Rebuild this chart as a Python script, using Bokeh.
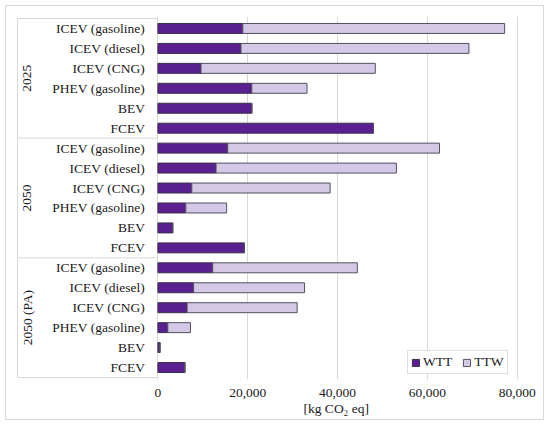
import math
from bokeh.plotting import figure
from bokeh.models import (FactorRange, ColumnDataSource, Legend, LegendItem, FixedTicker,
                          NumeralTickFormatter, Title)
from bokeh.core.properties import value
from bokeh.embed import file_html
from bokeh.resources import INLINE

years = ["2025", "2050", "2050 (PA)"]
vehicles = ["ICEV (gasoline)", "ICEV (diesel)", "ICEV (CNG)", "PHEV (gasoline)", "BEV", "FCEV"]
wtt_2025 = [18900, 18500, 9600, 20900, 20900, 48000]
ttw_2025 = [58300, 50750, 38800, 12300, 0, 0]
wtt_2050 = [15550, 12950, 7550, 6200, 3300, 19250]
ttw_2050 = [47150, 40150, 30800, 9100, 0, 0]
wtt_2050pa = [12200, 7950, 6500, 2200, 450, 6000]
ttw_2050pa = [32200, 24700, 24500, 5050, 0, 0]
x_ticks = [0, 20000, 40000, 60000, 80000]
x_title = "[kg CO₂ eq]"

wtt_all = [wtt_2025, wtt_2050, wtt_2050pa]
ttw_all = [ttw_2025, ttw_2050, ttw_2050pa]

factors, wtt, ttw, names = [], [], [], []
for y, w_list, t_list in zip(years, wtt_all, ttw_all):
    for v, w, t in zip(vehicles, w_list, t_list):
        factors.append((y, v))
        wtt.append(w)
        ttw.append(t)
        names.append(v)
# reverse so that the first factor is drawn at the top
factors, wtt, ttw, names = factors[::-1], wtt[::-1], ttw[::-1], names[::-1]
total = [a + b for a, b in zip(wtt, ttw)]

src = ColumnDataSource(dict(y=factors, wtt=wtt, ttw=ttw, total=total, name=names,
                            zero=[0] * len(wtt)))

FONT = "Liberation Serif"
FS = "13.5px"
TXT = "#1a1a1a"
GRID = "#d9d9d9"

# geometry (canvas px)
W, H = 539, 415
PX_PER_UNIT = 360 / 80000          # 0 .. 80,000 over 360 px
LEFT_PX = 140.7                    # label table width left of the value axis
X_START = -(LEFT_PX + 1) / PX_PER_UNIT
X_END = 80000 + 1.3 / PX_PER_UNIT
TABLE_X = -LEFT_PX / PX_PER_UNIT

p = figure(width=W, height=H, output_backend="svg", toolbar_location=None,
           y_range=FactorRange(*factors, range_padding=0.1, range_padding_units="absolute",
                               group_padding=0, factor_padding=0),
           x_range=(X_START, X_END),
           min_border_left=10, min_border_right=27, min_border_top=10, min_border_bottom=42)
p.styles = {"margin": "5px 0 0 5px", "border": "1px solid #d9d9d9"}
p.outline_line_color = None
p.yaxis.visible = False

r1 = p.hbar(y="y", left="zero", right="wtt", height=0.5, source=src,
            fill_color="#5a2090", line_color="#3b2f4a", line_width=1)
r2 = p.hbar(y="y", left="wtt", right="total", height=0.5, source=src,
            fill_color="#d3c8e6", line_color="#55505e", line_width=1)

# category labels (right aligned next to the value axis)
p.text(x=0, y="y", text="name", source=src, x_offset=-13, text_align="right",
       text_baseline="middle", text_font=value(FONT), text_font_size=FS, text_color=TXT)

# group labels (vertical)
grp_src = ColumnDataSource(dict(
    x=[TABLE_X] * len(years),
    y=[(yr, vehicles[2], -0.5) for yr in years],
    text=years))
p.text(x="x", y="y", text="text", source=grp_src, x_offset=10, angle=math.pi / 2,
       text_align="center", text_baseline="middle", text_font=value(FONT),
       text_font_size=FS, text_color=TXT)

# label table lines
h_y = [(years[0], vehicles[0], 0.5)] + [(yr, vehicles[-1], -0.5) for yr in years]
p.segment(x0=[TABLE_X] * len(h_y), x1=[0] * len(h_y), y0=h_y, y1=h_y,
          line_color=GRID, line_width=1)
p.segment(x0=[TABLE_X], x1=[TABLE_X], y0=[h_y[0]], y1=[h_y[-1]], line_color=GRID, line_width=1)

p.xaxis.ticker = FixedTicker(ticks=x_ticks)
p.xaxis.formatter = NumeralTickFormatter(format="0,0")
p.xaxis.axis_line_color = None
p.xaxis.major_tick_line_color = None
p.xaxis.minor_tick_line_color = None
p.xaxis.major_tick_out = 0
p.xaxis.major_tick_in = 0
p.xaxis.minor_tick_out = 0
p.xaxis.major_label_standoff = 9
p.xaxis.axis_label_standoff = 0
p.xaxis.major_label_text_font = FONT
p.xaxis.major_label_text_font_size = FS
p.xaxis.major_label_text_color = TXT

p.xgrid.grid_line_color = GRID
p.ygrid.grid_line_color = None

title = Title(text=x_title, align="left", offset=287, standoff=0, vertical_align="middle",
              text_font=FONT, text_font_size=FS, text_font_style="normal", text_color=TXT)
p.add_layout(title, "below")

legend = Legend(items=[LegendItem(label="WTT", renderers=[r1]), LegendItem(label="TTW", renderers=[r2])],
                orientation="horizontal", location=(391, 5),
                label_text_font=FONT, label_text_font_size=FS, label_text_color=TXT,
                glyph_width=9, glyph_height=9, label_standoff=3, spacing=10,
                padding=3, margin=0, label_height=12,
                border_line_color="#bfbfbf", background_fill_alpha=1)
p.add_layout(legend, "center")

open("out.html", "w").write(file_html(p, INLINE))
